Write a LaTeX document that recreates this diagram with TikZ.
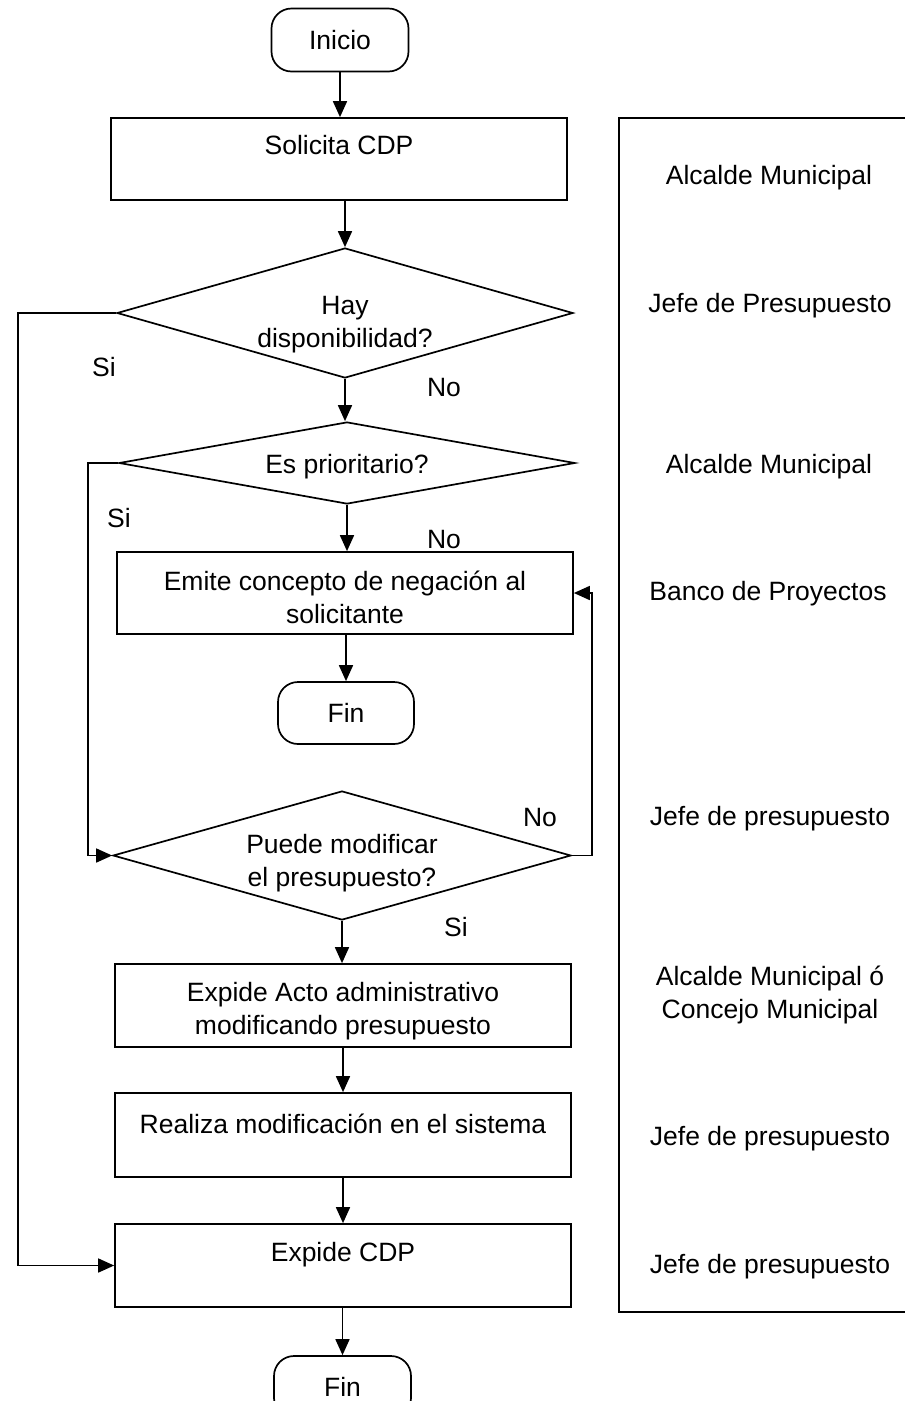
\documentclass[tikz,border=0pt]{standalone}
\usepackage{fontspec}
\setmainfont{Liberation Sans}
\usetikzlibrary{arrows.meta,shapes.geometric}
\begin{document}
\begin{tikzpicture}[x=1pt,y=-1pt,
  every node/.style={font=\fontsize{26.5}{33}\selectfont},
  lw/.style={line width=1.7pt},
  proc/.style={draw,lw,rectangle,minimum width=456pt,inner sep=0pt},
  term/.style={draw,lw,rectangle,rounded corners=20pt,minimum width=137pt,minimum height=63pt,inner sep=0pt},
  decis/.style={draw,lw,diamond,inner sep=0pt},
  txt/.style={inner sep=0pt,align=center},
  arr/.style={lw,-{Triangle[length=16pt,width=14pt]}}]
\useasboundingbox (0,0) rectangle (905,1401);
\clip (0,0) rectangle (905,1401);

% flow nodes
\node[term] (inicio) at (340,40) {Inicio};
\node[proc,minimum height=82pt] (solicita) at (339,159) {};
\node[txt] (tsolicita) at (339,145) {Solicita CDP};

\node[decis,minimum width=456pt,minimum height=130pt] (hay) at (345,313) {};
\node[txt] (thay) at (345,325) {Hay\\disponibilidad?};

\node[decis,minimum width=456pt,minimum height=82pt] (prior) at (347,463) {};
\node[txt] (tprior) at (347,467) {Es prioritario?};

\node[proc,minimum height=82pt] (emite) at (345,593) {};
\node[txt] (temite) at (345,597) {Emite concepto de negación al\\solicitante};

\node[term,minimum width=136pt,minimum height=62pt] (fin1) at (346,713) {Fin};

\node[decis,minimum width=458pt,minimum height=129pt] (puede) at (342,855.5) {};
\node[txt] (tpuede) at (342,863.5) {Puede modificar\\el presupuesto?};

\node[proc,minimum height=83pt] (acto) at (343,1005.5) {};
\node[txt] (tacto) at (343,1011) {Expide Acto administrativo\\modificando presupuesto};

\node[proc,minimum height=84pt] (realiza) at (343,1135) {};
\node[txt] (trealiza) at (343,1124) {Realiza modificación en el sistema};

\node[proc,minimum height=83pt] (expide) at (343,1265.5) {};
\node[txt] (texpide) at (343,1255) {Expide CDP};

\node[term,minimum height=62pt] (fin2) at (342.5,1387) {Fin};

% vertical connectors
\draw[arr] (inicio.south) -- (solicita.north -| inicio.south);
\draw[arr] (solicita.south -| hay.north) -- (hay.north);
\draw[arr] (hay.south) -- (prior.north -| hay.south);
\draw[arr] (prior.south) -- (emite.north -| prior.south);
\draw[arr] (emite.south -| fin1.north) -- (fin1.north);
\draw[arr] (puede.south) -- (acto.north -| puede.south);
\draw[arr] (acto.south) -- (realiza.north);
\draw[arr] (realiza.south) -- (expide.north);
\draw[arr] (expide.south -| fin2.north) -- (fin2.north);

% loop connectors
\coordinate (loopA) at (18,313);
\coordinate (loopB) at (88,463);
\coordinate (loopC) at (592,855.5);
\draw[arr] (hay.west) -- (loopA) |- (expide.west);
\draw[arr] (prior.west) -- (loopB) |- (puede.west);
\draw[arr] (puede.east) -- (loopC) |- (emite.east);

% branch labels
\node[txt] (si1) at (104,367) {Si};
\node[txt] (no1) at (444,388) {No};
\node[txt] (si2) at (119,518) {Si};
\node[txt] (no2) at (444,540) {No};
\node[txt] (no3) at (540,818) {No};
\node[txt] (si3) at (456,927) {Si};

% responsibility column
\draw[lw] (910,118) -- (619,118) -- (619,1312) -- (910,1312);
\node[txt] (r1) at (769,178) {Alcalde Municipal};
\node[txt] (r2) at (770,306) {Jefe de Presupuesto};
\node[txt] (r3) at (769,467) {Alcalde Municipal};
\node[txt] (r4) at (768,594) {Banco de Proyectos};
\node[txt] (r5) at (770,819) {Jefe de presupuesto};
\node[txt] (r6) at (770,995) {Alcalde Municipal ó\\Concejo Municipal};
\node[txt] (r7) at (770,1139) {Jefe de presupuesto};
\node[txt] (r8) at (770,1267) {Jefe de presupuesto};
\end{tikzpicture}
\end{document}
